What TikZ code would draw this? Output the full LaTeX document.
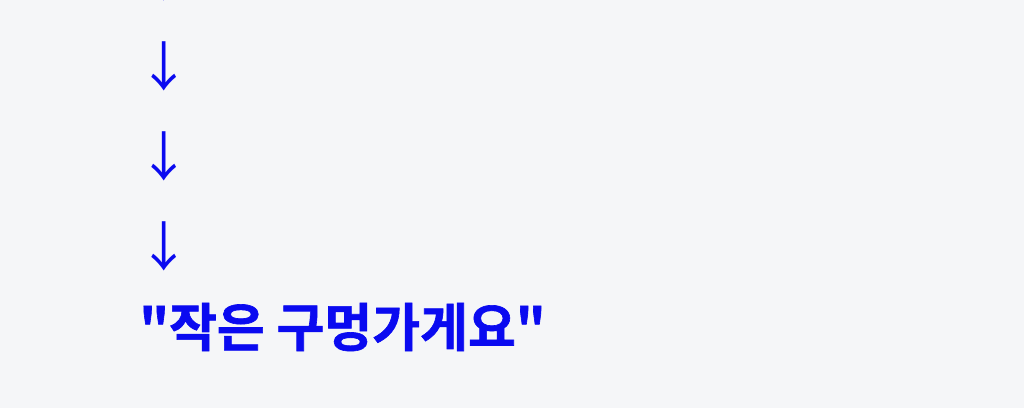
\documentclass[tikz,border=0pt]{standalone}
\usepackage{fontspec}
\newfontfamily\kr{Noto Sans CJK KR}
\newfontfamily\krb[FakeBold=1.2]{Noto Sans CJK KR Bold}
\definecolor{bg}{HTML}{F5F6F8}
\definecolor{ink}{HTML}{0A0AF0}
\begin{document}
\begin{tikzpicture}[x=0.75pt,y=-0.75pt,
  arr/.style={inner sep=0pt,text=ink,font=\kr\fontsize{40}{40}\selectfont},
  title/.style={inner sep=0pt,text=ink,anchor=west,font=\krb\fontsize{39}{42}\selectfont}]
\fill[bg] (0,0) rectangle (1024,408);
\useasboundingbox (0,0) rectangle (1024,408);
\node[arr] (a0) at (164,-24) {↓};
\node[arr] (a1) at (164,66) {↓};
\node[arr] (a2) at (164,156) {↓};
\node[arr] (a3) at (164,246) {↓};
\node[title] (t) at (139,327) {"작은 구멍가게요"};
\end{tikzpicture}
\end{document}
